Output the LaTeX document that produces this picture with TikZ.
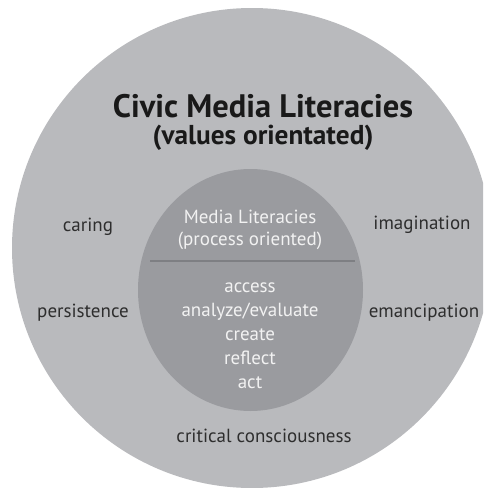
\documentclass[tikz,border=0pt]{standalone}
\usepackage{fontspec}
\setmainfont{PT Sans}
\definecolor{outerg}{HTML}{B9BABD}
\definecolor{innerg}{HTML}{9A9B9F}
\definecolor{lineg}{HTML}{7E7F83}
\definecolor{darktxt}{HTML}{2E2E2E}
\definecolor{lighttxt}{HTML}{F2F2F2}
\begin{document}
\begin{tikzpicture}[x=1pt,y=-1pt,
  outerlbl/.style={anchor=base,text=darktxt,font=\fontsize{19}{22}\selectfont,inner sep=0},
  innerlbl/.style={anchor=base,text=lighttxt,font=\fontsize{19}{22}\selectfont,inner sep=0},
  titlelbl/.style={anchor=base,text=black!90,font=\bfseries\fontsize{32.5}{36}\selectfont,inner sep=0}]
\useasboundingbox (0,0) rectangle (483,488);
\begin{scope}
\clip (0,0) rectangle (483,488);
\fill[outerg] (252,248) circle[radius=240];
\end{scope}
\fill[innerg] (250.5,290) ellipse[x radius=112.5, y radius=121];
\coordinate (divL) at (150,261);
\coordinate (divR) at (355,261);
\draw[lineg,line width=2pt] (divL) -- (divR);
\node[titlelbl] (title1) at (263,117) {Civic Media Literacies};
\node[titlelbl,font=\bfseries\fontsize{27.3}{30}\selectfont] (title2) at (263,144) {(values orientated)};
\node[innerlbl] (ml1) at (250,223) {Media Literacies};
\node[innerlbl] (ml2) at (250,245) {(process oriented)};
\node[innerlbl] (acc) at (250,292) {access};
\node[innerlbl] (ana) at (250,316) {analyze/evaluate};
\node[innerlbl] (cre) at (250,340) {create};
\node[innerlbl] (ref) at (250,364) {reflect};
\node[innerlbl] (act) at (250,388) {act};
\node[outerlbl] (car) at (88,231) {caring};
\node[outerlbl] (ima) at (422,229) {imagination};
\node[outerlbl] (per) at (83,317) {persistence};
\node[outerlbl] (ema) at (424,317) {emancipation};
\node[outerlbl] (cri) at (264,442) {critical consciousness};
\end{tikzpicture}
\end{document}
